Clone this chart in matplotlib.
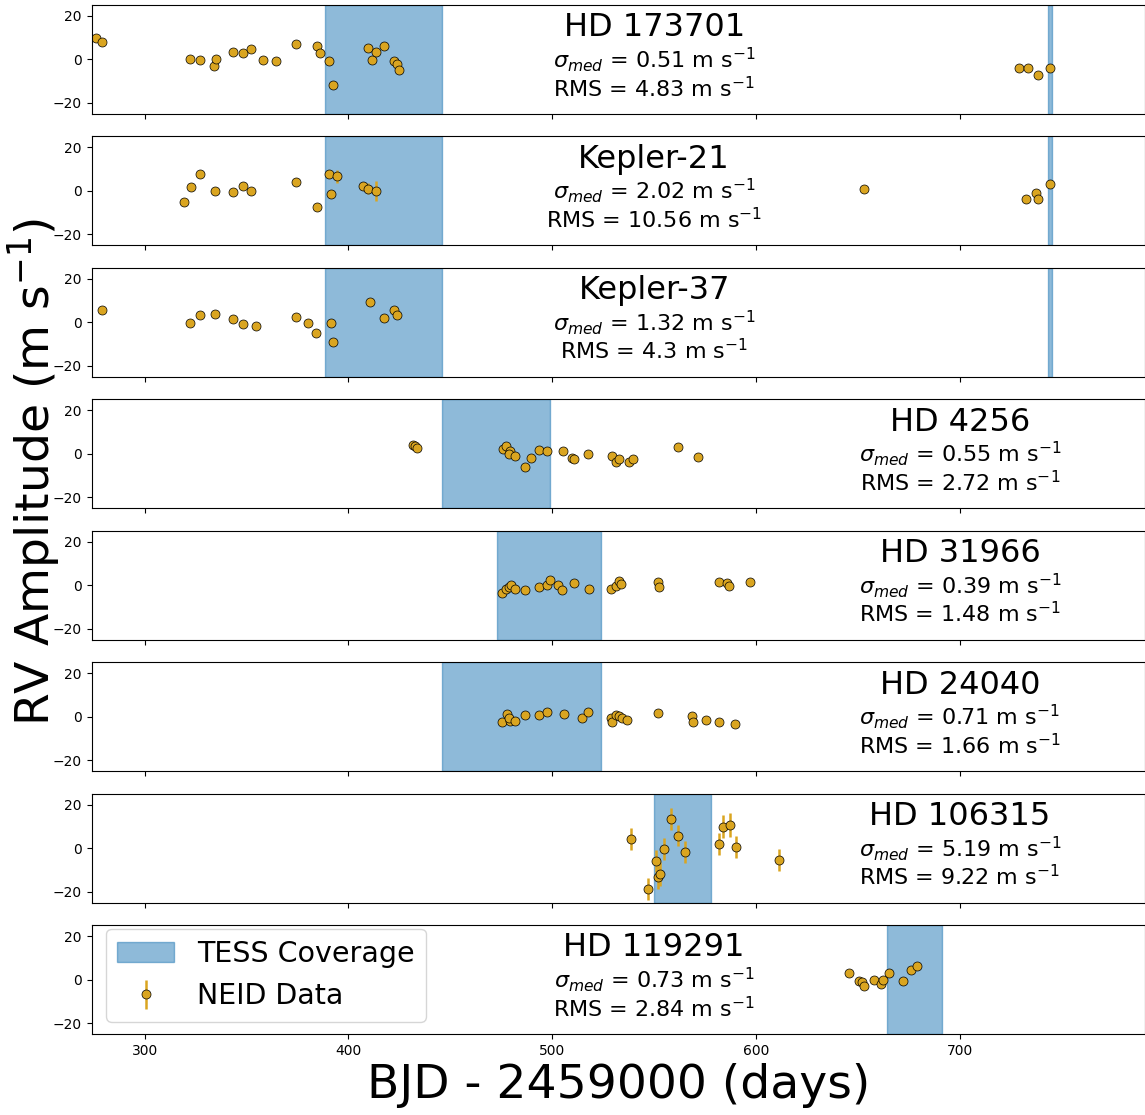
import numpy as np
import matplotlib
matplotlib.use("Agg")
import matplotlib.pyplot as plt

# star names and stats
names = ["HD 173701", "Kepler-21", "Kepler-37", "HD 4256",
         "HD 31966", "HD 24040", "HD 106315", "HD 119291"]
sigma_med = ["0.51", "2.02", "1.32", "0.55", "0.39", "0.71", "5.19", "0.73"]
rms = ["4.83", "10.56", "4.3", "2.72", "1.48", "1.66", "9.22", "2.84"]
text_x = [550, 550, 550, 700, 700, 700, 700, 550]

# TESS sector coverage (BJD - 2459000)
tess = [
    [(388.5, 445.8), (743.2, 745.2)],
    [(388.5, 445.8), (743.2, 745.2)],
    [(388.5, 445.8), (743.2, 745.2)],
    [(445.8, 498.9)],
    [(472.9, 523.9)],
    [(445.8, 523.9)],
    [(549.8, 578.1)],
    [(664.2, 691.2)],
]

# NEID RVs
t1 = [276.3, 279.2, 322.2, 327.3, 334.2, 335.2, 343.4, 348.3, 352.4, 358.3, 364.5,
      374.3, 384.4, 386.2, 390.5, 392.6, 409.6, 411.5, 413.4, 417.6, 422.4, 423.7,
      424.7, 729.1, 733.5, 738.4, 744.0]
rv1 = [9.7, 8.0, 0.1, -0.5, -3.0, 0.3, 3.5, 3.0, 4.9, -0.3, -0.6,
       7.1, 6.1, 2.9, -0.6, -11.8, 5.3, -0.1, 3.5, 6.1, -0.8, -2.1,
       -4.7, -3.9, -4.1, -7.0, -3.8]
e1 = [0.5] * len(t1)

t2 = [319.5, 322.6, 327.3, 334.4, 343.4, 348.3, 352.4, 374.3, 384.6, 390.5, 391.6,
      394.2, 407.3, 409.4, 413.5, 653.0, 732.4, 737.3, 738.4, 744.2]
rv2 = [-5.3, 1.7, 7.6, 0.0, -0.5, 2.3, 0.1, 4.1, -7.3, 7.7, -1.5,
       6.7, 2.0, 0.9, 0.0, 1.0, -3.9, -0.9, -3.6, 3.0]
e2 = [1.8, 1.8, 1.8, 1.8, 1.8, 1.8, 1.8, 1.8, 1.8, 1.8, 1.8,
      3.0, 1.8, 2.5, 4.5, 1.8, 1.8, 1.8, 1.8, 1.8]

t3 = [279.2, 322.2, 327.3, 334.4, 343.2, 348.3, 354.5, 374.3, 380.3, 384.1, 391.4,
      392.6, 410.6, 417.6, 422.5, 423.7]
rv3 = [5.6, -0.3, 3.5, 3.8, 1.7, -0.6, -1.8, 2.6, -0.1, -4.9, -0.3,
       -9.2, 9.5, 1.8, 5.6, 3.5]
e3 = [1.3] * len(t3)

t4 = [431.7, 432.7, 433.7, 475.9, 477.5, 479.5, 478.7, 481.6, 486.7, 489.6, 493.5,
      497.6, 505.5, 509.6, 510.9, 517.7, 529.5, 531.5, 532.6, 537.5, 539.7, 561.6,
      571.6]
rv4 = [4.1, 3.6, 2.7, 2.1, 3.5, 1.4, -0.3, -1.1, -5.9, -1.8, 1.8,
       1.1, 1.5, -2.0, -2.6, 0.0, -1.2, -3.9, -2.4, -3.9, -2.6, 3.0,
       -1.5]
e4 = [0.55] * len(t4)

t5 = [475.5, 477.2, 478.8, 479.9, 481.9, 486.6, 493.5, 497.6, 498.8, 502.7, 504.7,
      510.7, 517.9, 528.7, 531.5, 532.8, 533.6, 551.8, 552.5, 581.7, 585.8, 586.9,
      597.0]
rv5 = [-3.6, -1.8, -0.6, 0.3, -1.5, -2.0, -0.8, 0.1, 2.3, 0.0, -2.0,
       1.1, -1.7, -1.8, -0.2, 2.1, 0.8, 1.4, -0.6, 1.7, 0.9, -0.5,
       1.4]
e5 = [0.4] * len(t5)

t6 = [475.5, 477.6, 479.1, 478.6, 481.6, 486.7, 493.5, 497.5, 505.8, 514.8, 517.7,
      528.7, 529.5, 531.5, 532.8, 534.3, 536.9, 551.9, 568.7, 568.9, 575.6, 581.8,
      589.7]
rv6 = [-2.4, 1.4, -2.0, -0.5, -2.0, 0.6, 0.8, 2.1, 1.2, -0.5, 2.3,
       -0.8, -2.3, 1.0, 0.3, -0.5, -1.7, 1.5, 0.5, -2.3, -1.4, -2.4,
       -3.5]
e6 = [0.7] * len(t6)

t7 = [538.8, 547.0, 551.0, 551.8, 553.1, 554.9, 558.2, 561.9, 564.9, 581.9, 584.0,
      587.0, 590.1, 611.2]
rv7 = [4.4, -18.6, -5.8, -13.3, -12.0, -0.5, 13.5, 5.8, -1.7, 2.0, 10.0,
       10.9, 0.5, -5.5]
e7 = [5.0, 5.0, 5.0, 5.5, 5.5, 5.0, 5.0, 5.0, 5.0, 5.0, 5.5,
      5.5, 5.0, 5.0]

t8 = [645.8, 650.6, 652.1, 653.1, 658.0, 661.2, 662.2, 665.1, 672.0, 676.1, 679.0]
rv8 = [2.9, -0.5, -0.9, -3.0, -0.3, -2.0, 0.1, 2.9, -0.8, 4.5, 6.5]
e8 = [0.7] * len(t8)

times = [t1, t2, t3, t4, t5, t6, t7, t8]
rvs = [rv1, rv2, rv3, rv4, rv5, rv6, rv7, rv8]
errs = [e1, e2, e3, e4, e5, e6, e7, e8]

fig, axes = plt.subplots(8, 1, figsize=(11.45, 11.15), dpi=100, sharex=True)
fig.subplots_adjust(left=0.080, right=1.0, top=0.9955, bottom=0.0726, hspace=0.21)

for i, ax in enumerate(axes):
    for (a, b) in tess[i]:
        ax.axvspan(a, b, color="C0", alpha=0.5, label="TESS Coverage")
    ax.errorbar(times[i], rvs[i], yerr=errs[i], fmt="o", color="goldenrod",
                ecolor="goldenrod", elinewidth=1.8, ms=6.5, mec="k", mew=0.5,
                label="NEID Data")
    ax.set_ylim(-25, 25)
    ax.set_yticks([-20, 0, 20])
    ax.text(text_x[i], 14.6, names[i], ha="center", va="center", fontsize=23)
    ax.text(text_x[i], -3.8, r"$\sigma_{med}$ = " + sigma_med[i] + r" m s$^{-1}$",
            ha="center", va="baseline", fontsize=16)
    ax.text(text_x[i], -17.2, "RMS = " + rms[i] + r" m s$^{-1}$",
            ha="center", va="baseline", fontsize=16)

axes[0].set_xlim(274, 790.8)
axes[-1].set_xticks([300, 400, 500, 600, 700])

h, l = axes[-1].get_legend_handles_labels()
axes[-1].legend([h[0], h[-1]], [l[0], l[-1]], loc="upper left", fontsize=20.5,
                bbox_to_anchor=(0.0, 1.10))

axes[-1].set_xlabel("BJD - 2459000 (days)", fontsize=34)
fig.text(0.030, 0.577, r"RV Amplitude (m s$^{-1}$)", rotation=90,
         ha="center", va="center", fontsize=34)

fig.savefig("out.png", dpi=100)
